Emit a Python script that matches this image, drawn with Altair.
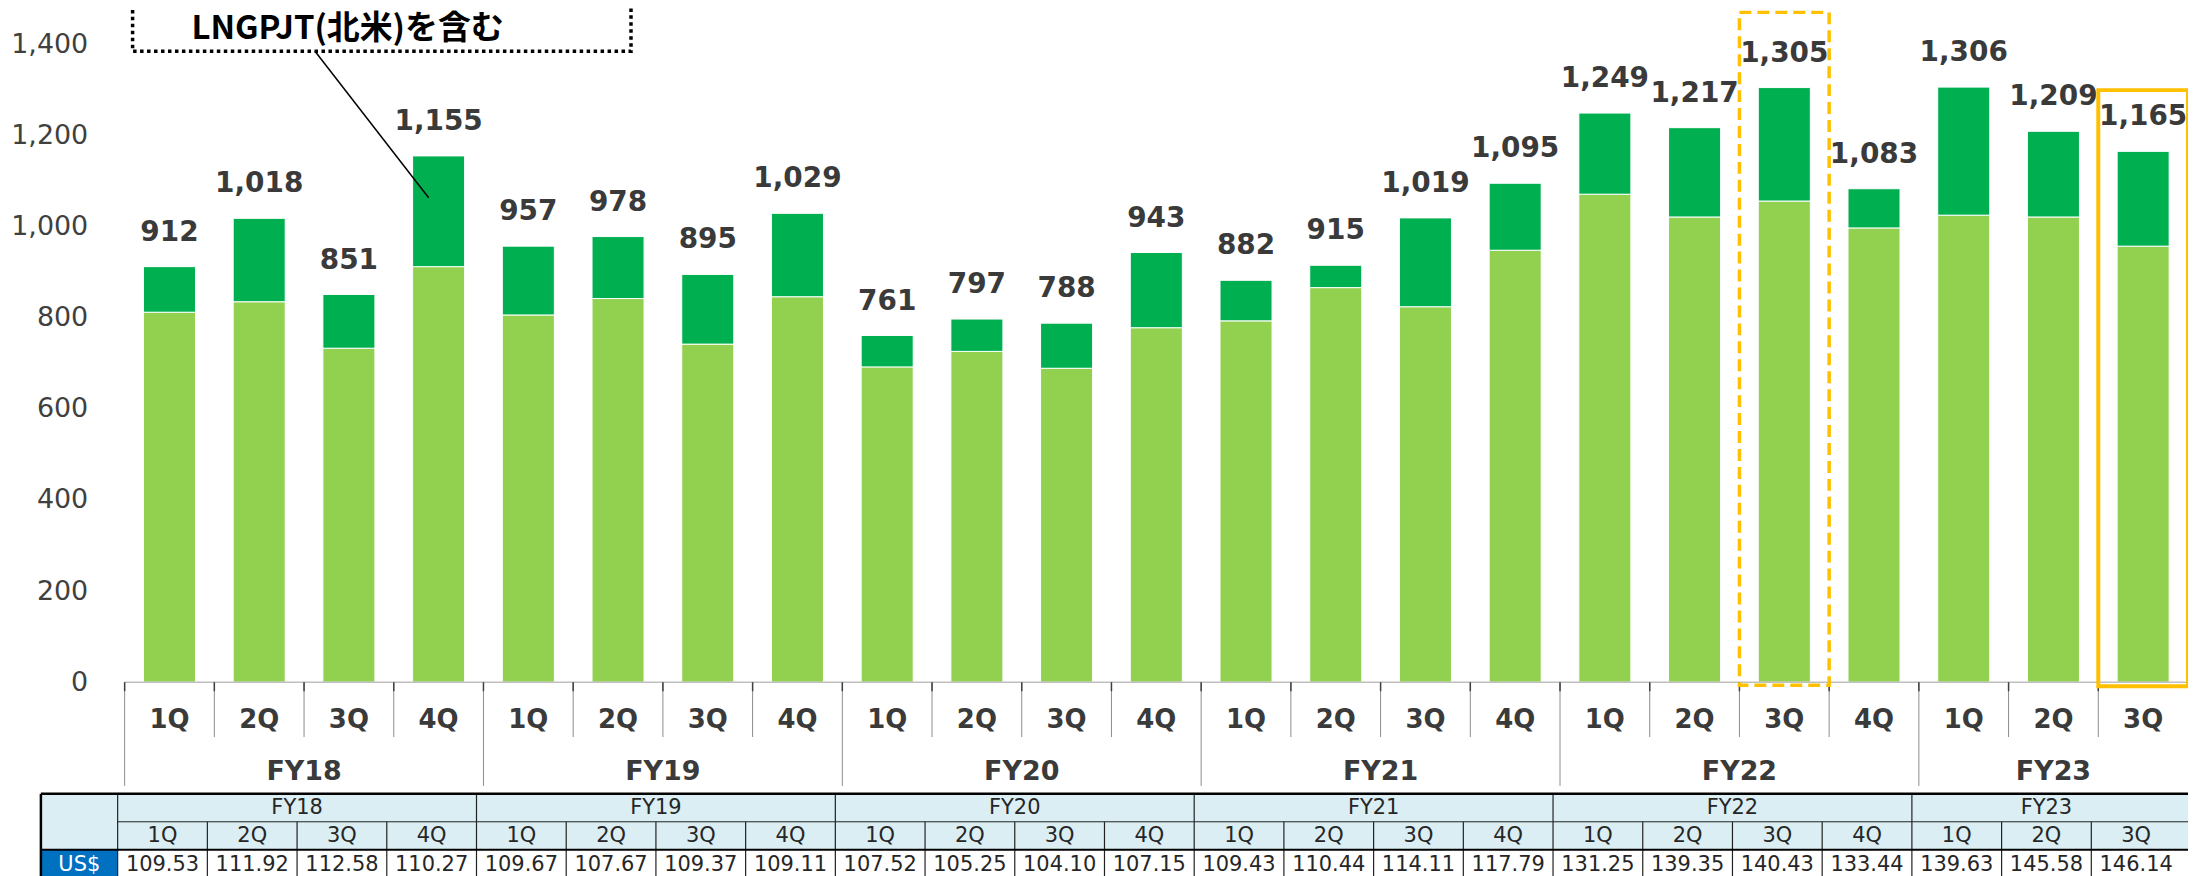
import altair as alt
import pandas as pd

# ---------------- data ----------------
fiscal_years = ["FY18"] * 4 + ["FY19"] * 4 + ["FY20"] * 4 + ["FY21"] * 4 + ["FY22"] * 4 + ["FY23"] * 3
quarters = ["1Q", "2Q", "3Q", "4Q"] * 5 + ["1Q", "2Q", "3Q"]
totals = [912, 1018, 851, 1155, 957, 978, 895, 1029, 761, 797, 788, 943,
          882, 915, 1019, 1095, 1249, 1217, 1305, 1083, 1306, 1209, 1165]
base_values = [812, 835, 733, 912, 806, 842, 742, 846, 692, 726, 689, 778,
               793, 866, 824, 948, 1071, 1021, 1056, 997, 1025, 1021, 957]
usd_rates = [109.53, 111.92, 112.58, 110.27, 109.67, 107.67, 109.37, 109.11,
             107.52, 105.25, 104.10, 107.15, 109.43, 110.44, 114.11, 117.79,
             131.25, 139.35, 140.43, 133.44, 139.63, 145.58, 146.14]
y_ticks = [0, 200, 400, 600, 800, 1000, 1200, 1400]
segments = ["base", "upper"]
segment_colors = ["#92D050", "#00B050"]
dashed_highlight = "FY22 3Q"
solid_highlight = "FY23 3Q"
note_line1 = "アップストリームPJT(中東)、"
note_line2 = "LNGPJT(北米)を含む"
currency_label = "US$"

# ---------------- tables ----------------
keys = [f"{fy} {q}" for fy, q in zip(fiscal_years, quarters)]
n = len(keys)

rows = []
for i, k in enumerate(keys):
    rows.append(dict(key=k, segment="base", value=base_values[i], order=0))
    rows.append(dict(key=k, segment="upper", value=totals[i] - base_values[i], order=1))
df_bars = pd.DataFrame(rows)

df_cat = pd.DataFrame(dict(key=keys, fy=fiscal_years, q=quarters, total=totals,
                           usd=usd_rates, idx=list(range(n))))
df_cat["mid"] = df_cat["idx"] + 0.5
df_fy_start = df_cat[df_cat["q"] == "1Q"]
df_q_inner = df_cat[df_cat["q"] != "1Q"]
df_fy = (df_cat.groupby("fy", sort=False)
         .agg(start=("idx", "min"), count=("idx", "size")).reset_index())
df_fy["center"] = df_fy["start"] + df_fy["count"] / 2


def hl(key):
    d = df_cat[df_cat["key"] == key][["idx"]].copy()
    d["start"] = d["idx"]
    d["end"] = d["idx"] + 1
    return d


df_dash = hl(dashed_highlight)
df_solid = hl(solid_highlight)
df_one = pd.DataFrame({"a": [0]})

# ---------------- geometry ----------------
W = 2070
H = 868
ZERO_Y = 675          # pixel of value 0 inside plot
PX_PER_UNIT = 640 / 1400
Y_MAX = ZERO_Y / PX_PER_UNIT
Y_MIN = -(H - ZERO_Y) / PX_PER_UNIT

LATIN = "DejaVu Sans"
JP = "Noto Sans CJK JP"
DARK = "#3a3a3a"

Y_SCALE = alt.Scale(domain=[Y_MIN, Y_MAX], nice=False, zero=False)
Y_AXIS = alt.Axis(values=y_ticks, format=",d", domain=False, ticks=False,
                  tickSize=0, grid=False, labelPadding=37, labelFont=LATIN,
                  labelFontSize=27, labelColor="#404040", title=None)
X_BAR = alt.X("key:N", sort=keys,
              scale=alt.Scale(domain=keys, paddingInner=0.42, paddingOuter=0.21),
              axis=None)
X_GRID_SCALE = alt.Scale(domain=[0, n], nice=False, zero=False)

# ---------------- layers ----------------
bars = alt.Chart(df_bars).mark_bar(stroke="white", strokeWidth=1).encode(
    x=X_BAR,
    y=alt.Y("value:Q", stack="zero", scale=Y_SCALE, axis=Y_AXIS, title=None),
    color=alt.Color("segment:N", scale=alt.Scale(domain=segments, range=segment_colors),
                    legend=None),
    order=alt.Order("order:Q"),
)

value_labels = alt.Chart(df_cat).mark_text(
    font=LATIN, fontWeight="bold", fontSize=28, color=DARK, dy=-34, baseline="middle"
).encode(
    x=X_BAR,
    y=alt.Y("total:Q", scale=Y_SCALE, axis=Y_AXIS, title=None),
    text=alt.Text("total:Q", format=",d"),
)

baseline = alt.Chart(df_one).mark_rule(color="#bfbfbf", strokeWidth=1.5).encode(
    x=alt.value(0), x2=alt.value(W), y=alt.value(ZERO_Y))

q_sep = alt.Chart(df_q_inner).mark_rule(color="#8c8c8c", strokeWidth=1).encode(
    x=alt.X("idx:Q", scale=X_GRID_SCALE, axis=None),
    y=alt.value(ZERO_Y), y2=alt.value(730))

fy_sep = alt.Chart(df_fy_start).mark_rule(color="#8c8c8c", strokeWidth=1).encode(
    x=alt.X("idx:Q", scale=X_GRID_SCALE, axis=None),
    y=alt.value(ZERO_Y), y2=alt.value(779))

ticks_dark = alt.Chart(df_cat).mark_rule(color="#404040", strokeWidth=1.5).encode(
    x=alt.X("idx:Q", scale=X_GRID_SCALE, axis=None),
    y=alt.value(ZERO_Y), y2=alt.value(684))

q_labels = alt.Chart(df_cat).mark_text(
    font=LATIN, fontWeight="bold", fontSize=26, color=DARK, baseline="middle"
).encode(
    x=alt.X("mid:Q", scale=X_GRID_SCALE, axis=None),
    y=alt.value(713), text="q:N")

fy_labels = alt.Chart(df_fy).mark_text(
    font=LATIN, fontWeight="bold", fontSize=27, color=DARK, baseline="middle"
).encode(
    x=alt.X("center:Q", scale=X_GRID_SCALE, axis=None),
    y=alt.value(765), text="fy:N")

# ---- table ----
T_TOP, T_R1, T_R2, T_BOT = 787, 815, 843, 890
T_LEFT, T_COL0 = -84, -7
OFF = -7

tbl_head_bg = alt.Chart(df_one).mark_rect(color="#DAEEF3").encode(
    x=alt.value(T_LEFT), x2=alt.value(W + 20), y=alt.value(T_TOP), y2=alt.value(T_R2))
tbl_usd_bg = alt.Chart(df_one).mark_rect(color="#0070C0").encode(
    x=alt.value(T_LEFT), x2=alt.value(T_COL0), y=alt.value(T_R2), y2=alt.value(T_BOT))

tbl_top = alt.Chart(df_one).mark_rule(color="black", strokeWidth=2.5).encode(
    x=alt.value(T_LEFT), x2=alt.value(W + 20), y=alt.value(T_TOP))
tbl_r1 = alt.Chart(df_one).mark_rule(color="#222222", strokeWidth=1).encode(
    x=alt.value(T_COL0), x2=alt.value(W + 20), y=alt.value(T_R1))
tbl_r2 = alt.Chart(df_one).mark_rule(color="black", strokeWidth=2).encode(
    x=alt.value(T_LEFT), x2=alt.value(W + 20), y=alt.value(T_R2))
tbl_left = alt.Chart(df_one).mark_rule(color="black", strokeWidth=2.5).encode(
    x=alt.value(T_LEFT), y=alt.value(T_TOP), y2=alt.value(T_BOT))

tbl_vfy = alt.Chart(df_fy_start).mark_rule(color="#222222", strokeWidth=1.2, xOffset=OFF).encode(
    x=alt.X("idx:Q", scale=X_GRID_SCALE, axis=None),
    y=alt.value(T_TOP), y2=alt.value(T_BOT))
tbl_vq = alt.Chart(df_q_inner).mark_rule(color="#222222", strokeWidth=1.2, xOffset=OFF).encode(
    x=alt.X("idx:Q", scale=X_GRID_SCALE, axis=None),
    y=alt.value(T_R1), y2=alt.value(T_BOT))

TBL_FONT = dict(font=LATIN, fontSize=21, color="#262626", baseline="middle")
tbl_fy_text = alt.Chart(df_fy).mark_text(xOffset=OFF, **TBL_FONT).encode(
    x=alt.X("center:Q", scale=X_GRID_SCALE, axis=None), y=alt.value(801), text="fy:N")
tbl_q_text = alt.Chart(df_cat).mark_text(xOffset=OFF, **TBL_FONT).encode(
    x=alt.X("mid:Q", scale=X_GRID_SCALE, axis=None), y=alt.value(829), text="q:N")
tbl_usd_text = alt.Chart(df_cat).mark_text(xOffset=OFF, **TBL_FONT).encode(
    x=alt.X("mid:Q", scale=X_GRID_SCALE, axis=None), y=alt.value(858),
    text=alt.Text("usd:Q", format=".2f"))
tbl_usd_label = alt.Chart(df_one).mark_text(
    font=LATIN, fontSize=21, color="white", baseline="middle", text=currency_label).encode(
    x=alt.value((T_LEFT + T_COL0) / 2), y=alt.value(858))

# ---- highlights ----
dash_box = alt.Chart(df_dash).mark_rect(
    fillOpacity=0, stroke="#FFC000", strokeWidth=3.5, strokeDash=[12, 6]
).encode(
    x=alt.X("start:Q", scale=X_GRID_SCALE, axis=None), x2="end:Q",
    y=alt.value(3), y2=alt.value(678))
solid_box = alt.Chart(df_solid).mark_rect(
    fillOpacity=0, stroke="#FFC000", strokeWidth=4
).encode(
    x=alt.X("start:Q", scale=X_GRID_SCALE, axis=None), x2="end:Q",
    y=alt.value(81), y2=alt.value(679))

# ---- annotation ----
note_box = alt.Chart(df_one).mark_rect(
    fill="white", stroke="black", strokeWidth=3.5, strokeDash=[3.5, 3.5]
).encode(x=alt.value(8), x2=alt.value(508), y=alt.value(-40), y2=alt.value(42))
NOTE_FONT = dict(font=JP, fontWeight="bold", fontSize=33, color="black",
                 align="left", baseline="middle")
note_text1 = alt.Chart(df_one).mark_text(text=note_line1, **NOTE_FONT).encode(
    x=alt.value(67), y=alt.value(-26))
note_text2 = alt.Chart(df_one).mark_text(text=note_line2, **NOTE_FONT).encode(
    x=alt.value(67), y=alt.value(20))
note_arrow = alt.Chart(df_one).mark_rule(color="black", strokeWidth=1.5).encode(
    x=alt.value(191), x2=alt.value(305), y=alt.value(42), y2=alt.value(189))

chart = alt.layer(
    bars, value_labels, baseline, q_sep, fy_sep, ticks_dark, q_labels, fy_labels,
    tbl_head_bg, tbl_usd_bg, tbl_r1, tbl_vfy, tbl_vq, tbl_top, tbl_r2, tbl_left,
    tbl_fy_text, tbl_q_text, tbl_usd_text, tbl_usd_label,
    dash_box, solid_box, note_box, note_text1, note_text2, note_arrow,
).resolve_scale(x="independent").properties(
    width=W, height=H,
    autosize=alt.AutoSizeParams(type="none"),
    padding={"left": 117, "top": 0, "right": 0, "bottom": 0},
    background="white",
).configure_view(strokeWidth=0)

chart.save("out.html", embed_options={"renderer": "svg", "actions": False})
